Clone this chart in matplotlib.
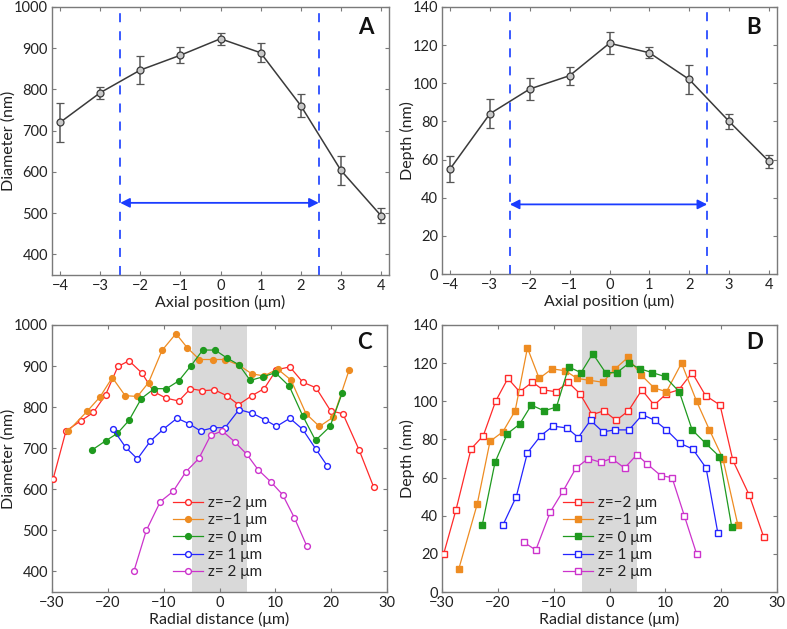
import matplotlib
matplotlib.use("Agg")
import matplotlib.pyplot as plt
import numpy as np

plt.rcParams['font.family'] = ['Lato', 'DejaVu Sans']
plt.rcParams['axes.unicode_minus'] = True

# panel A / B : axial scans
axial = [-4, -3, -2, -1, 0, 1, 2, 3, 4]
diam_mean = [720, 792, 847, 883, 923, 889, 761, 604, 494]
diam_err = [47, 14, 33, 19, 15, 23, 27, 35, 18]
depth_mean = [55, 84, 97, 104, 121, 116, 102, 80, 59]
depth_err = [7, 7.6, 5.7, 4.8, 5.7, 3, 7.6, 4, 3.4]

# panel C : diameter vs radial distance
c_red_x = [-29.8, -27.5, -24.8, -22.6, -20.4, -18.2, -16.2, -13.9, -11.8, -9.6, -7.3, -5.2, -3.1,
           -0.9, 1.3, 3.4, 5.8, 8.0, 10.2, 12.6, 14.9, 17.3, 19.9, 22.1, 25.0, 27.6]
c_red_y = [625, 742, 767, 787, 830, 899, 913, 883, 838, 822, 815, 845, 840,
           842, 828, 806, 828, 845, 891, 898, 861, 847, 791, 784, 696, 606]
c_org_x = [-27.1, -23.7, -21.4, -19.2, -16.9, -14.7, -12.7, -10.3, -7.8, -5.8, -3.6, -1.2, 1.0,
           3.5, 5.8, 8.0, 10.4, 12.8, 15.5, 17.9, 20.4, 23.2]
c_org_y = [742, 790, 825, 872, 828, 826, 860, 938, 979, 945, 916, 916, 916,
           902, 881, 876, 893, 866, 784, 753, 776, 890]
c_grn_x = [-22.8, -20.4, -18.3, -16.2, -14.0, -11.7, -9.5, -7.3, -5.1, -3.0, -0.8, 1.3, 3.5,
           5.5, 7.8, 10.0, 12.5, 14.9, 17.2, 19.8, 22.0]
c_grn_y = [696, 718, 736, 768, 821, 845, 845, 864, 901, 939, 939, 920, 903,
           865, 874, 884, 851, 779, 719, 753, 835]
c_blu_x = [-19.1, -16.8, -14.7, -12.4, -10.1, -7.6, -5.5, -3.4, -1.1, 1.0, 3.5, 5.9, 8.2,
           10.2, 12.6, 14.9, 17.3, 19.3]
c_blu_y = [747, 702, 674, 717, 746, 773, 760, 742, 750, 750, 794, 785, 769,
           753, 773, 746, 697, 657]
c_mag_x = [-15.3, -13.1, -10.6, -8.3, -6.0, -3.7, -1.6, 0.5, 2.7, 4.9, 6.9, 9.2, 11.3, 13.4, 15.6]
c_mag_y = [402, 500, 570, 595, 643, 675, 731, 742, 716, 685, 648, 618, 587, 531, 463]

# panel D : depth vs radial distance
d_red_x = [-29.7, -27.5, -24.8, -22.6, -20.4, -18.2, -16.1, -13.8, -11.9, -9.6, -7.4, -5.3, -3.1,
           -1.0, 1.2, 3.4, 5.8, 8.0, 10.2, 12.4, 14.8, 17.2, 19.8, 22.1, 25.0, 27.6]
d_red_y = [20, 43, 75, 82, 100, 112, 105, 110, 106, 105, 110, 104, 93,
           95, 90, 95, 106, 98, 104, 106, 115, 103, 98, 69, 51, 29]
d_org_x = [-27.0, -23.7, -21.4, -19.1, -16.9, -14.7, -12.6, -10.3, -7.9, -5.8, -3.6, -1.2, 1.0,
           3.3, 5.6, 8.0, 10.2, 12.9, 15.6, 17.9, 20.3, 23.0]
d_org_y = [12, 46, 79, 84, 95, 128, 112, 117, 116, 112, 111, 110, 117,
           123, 114, 107, 105, 120, 100, 85, 70, 35]
d_grn_x = [-22.8, -20.5, -18.3, -16.1, -14.0, -11.7, -9.5, -7.3, -5.1, -3.0, -0.7, 1.3, 3.5,
           5.5, 7.7, 9.9, 12.5, 14.8, 17.2, 19.7, 21.9]
d_grn_y = [35, 68, 83, 88, 98, 95, 97, 118, 115, 125, 115, 115, 120,
           117, 115, 113, 105, 85, 78, 71, 34]
d_blu_x = [-19.1, -16.7, -14.7, -12.3, -10.1, -7.6, -5.6, -3.4, -1.2, 1.0, 3.5, 5.9, 8.1,
           10.2, 12.6, 14.9, 17.3, 19.4]
d_blu_y = [35, 50, 73, 82, 87, 86, 81, 90, 84, 85, 85, 93, 90,
           85, 78, 75, 65, 31]
d_mag_x = [-15.3, -13.2, -10.6, -8.3, -6.0, -3.8, -1.6, 0.4, 2.7, 4.9, 6.8, 9.2, 11.2, 13.4, 15.6]
d_mag_y = [26, 22, 42, 53, 65, 70, 68, 70, 65, 72, 67, 61, 60, 40, 20]

labels = ['z=\u22122 \u03bcm', 'z=\u22121 \u03bcm', 'z= 0 \u03bcm', 'z= 1 \u03bcm', 'z= 2 \u03bcm']
colors = ['#ff2a2a', '#ee8c22', '#1f9a1f', '#2424ff', '#cc33cc']
faces = ['white', '#ee8c22', '#1f9a1f', 'white', 'white']

SPINE = '#7a7a7a'
TXT = '#222222'


def style_axes(ax):
    for s in ax.spines.values():
        s.set_color(SPINE)
        s.set_linewidth(1.0)
    ax.tick_params(direction='in', top=True, right=True, length=3, width=0.8,
                   color=SPINE, labelsize=10.5, labelcolor=TXT, pad=3)


fig = plt.figure(figsize=(7.87, 6.29), dpi=100)
W, H = 787.0, 629.0


def add_ax(l, r, t, b):
    return fig.add_axes([l / W, 1 - b / H, (r - l) / W, (b - t) / H])


axA = add_ax(52, 389, 7, 275)
axB = add_ax(442, 777, 7, 274)
axC = add_ax(52, 387, 325, 592)
axD = add_ax(442, 777, 325, 592)


def axial_panel(ax, mean, err, ylim, yticks, ylabel, arrow_y, letter, lab_x):
    style_axes(ax)
    ax.errorbar(axial, mean, yerr=err, color='#3a3a3a', lw=1.1, marker='o', ms=5,
                mfc='#c8c8c8', mec='#3a3a3a', mew=0.9, capsize=3, elinewidth=1.1,
                ecolor='#555555', capthick=1.1, zorder=3)
    for xv in (-2.5, 2.45):
        ax.axvline(xv, color='#2a4cff', lw=1.3, ls=(0, (5, 5)), zorder=2)
    ax.annotate('', xy=(-2.5, arrow_y), xytext=(2.45, arrow_y),
                arrowprops=dict(arrowstyle='<|-|>', color='#1a3cff', lw=1.3,
                                mutation_scale=14, shrinkA=0, shrinkB=0))
    ax.set_xlim(-4.2, 4.2)
    ax.set_ylim(*ylim)
    ax.set_xticks(axial)
    ax.set_yticks(yticks)
    ax.set_xlabel('Axial position (\u03bcm)', fontsize=11.5, color=TXT, labelpad=1)
    ax.set_ylabel(ylabel, fontsize=11.5, color=TXT)
    ax.yaxis.set_label_coords(lab_x, 0.5)
    ax.text(0.93, 0.925, letter, transform=ax.transAxes, fontsize=16, fontweight='bold',
            ha='center', va='center', color='#111111')


axial_panel(axA, diam_mean, diam_err, (350, 1000), np.arange(400, 1001, 100),
            'Diameter (nm)', 525, 'A', -0.108)
axial_panel(axB, depth_mean, depth_err, (0, 140), np.arange(0, 141, 20),
            'Depth (nm)', 36.5, 'B', -0.08)


def radial_panel(ax, xs, ys, marker, ylim, yticks, ylabel, letter, lab_x):
    style_axes(ax)
    ax.axvspan(-5, 5, color='#d9d9d9', lw=0, zorder=0)
    for x, y, c, f, lab in zip(xs, ys, colors, faces, labels):
        ax.plot(x, y, color=c, lw=0.9, marker=marker, ms=4.2, mfc=f, mec=c,
                mew=1.0, label=lab, zorder=3)
    ax.set_xlim(-30, 30)
    ax.set_ylim(*ylim)
    ax.set_xticks(np.arange(-30, 31, 10))
    ax.set_yticks(yticks)
    ax.set_xlabel('Radial distance (\u03bcm)', fontsize=11.5, color=TXT, labelpad=1)
    ax.set_ylabel(ylabel, fontsize=11.5, color=TXT)
    ax.yaxis.set_label_coords(lab_x, 0.5)
    ax.text(0.934, 0.935, letter, transform=ax.transAxes, fontsize=16, fontweight='bold',
            ha='center', va='center', color='#111111')
    leg = ax.legend(loc='upper left', bbox_to_anchor=(0.36, 0.36), frameon=False,
                    fontsize=11, handlelength=2.0, handletextpad=0.3,
                    labelspacing=0.22, borderaxespad=0, borderpad=0)
    for t in leg.get_texts():
        t.set_color(TXT)


radial_panel(axC, [c_red_x, c_org_x, c_grn_x, c_blu_x, c_mag_x],
             [c_red_y, c_org_y, c_grn_y, c_blu_y, c_mag_y], 'o',
             (350, 1000), np.arange(400, 1001, 100), 'Diameter (nm)', 'C', -0.108)
radial_panel(axD, [d_red_x, d_org_x, d_grn_x, d_blu_x, d_mag_x],
             [d_red_y, d_org_y, d_grn_y, d_blu_y, d_mag_y], 's',
             (0, 140), np.arange(0, 141, 20), 'Depth (nm)', 'D', -0.08)

fig.savefig('out.png', dpi=100)
